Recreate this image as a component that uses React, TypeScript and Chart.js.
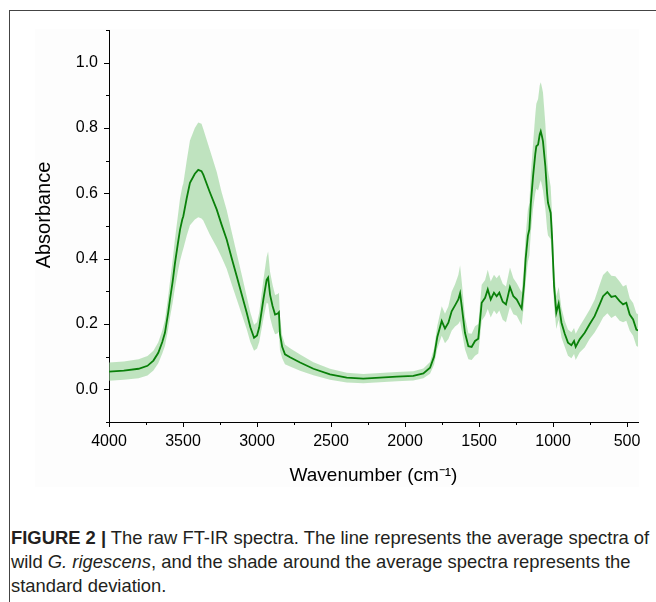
import React, { useEffect, useRef } from "react";
import { Chart, registerables } from "chart.js";

Chart.register(...registerables);

// Wavenumber (cm-1), mean absorbance, standard deviation
const WAVENUMBER = [
  4000, 3900, 3800, 3740, 3700, 3667, 3640, 3622, 3600, 3588, 3570, 3554, 3535, 3520, 3505, 3498,
  3475, 3453, 3420, 3397, 3375, 3363, 3320, 3272, 3240, 3205, 3170, 3137, 3100, 3070, 3045, 3020,
  3000, 2985, 2957, 2935, 2925, 2912, 2895, 2878, 2860, 2852, 2845, 2830, 2811, 2777, 2709, 2619,
  2507, 2394, 2282, 2169, 2056, 1944, 1876, 1831, 1804, 1782, 1752, 1730, 1707, 1685, 1662, 1640,
  1628, 1617, 1595, 1572, 1550, 1527, 1505, 1482, 1459, 1441, 1421, 1399, 1381, 1363, 1340, 1318,
  1291, 1268, 1245, 1228, 1212, 1196, 1185, 1170, 1160, 1150, 1135, 1120, 1113, 1101, 1090, 1083,
  1075, 1068, 1052, 1040, 1034, 1016, 1007, 993, 978, 962, 943, 921, 899, 876, 858, 847,
  820, 786, 753, 719, 685, 662, 633, 606, 579, 550, 527, 505, 482, 459, 437, 426,
];
const MEAN_ABS = [
  0.054, 0.057, 0.063, 0.072, 0.088, 0.112, 0.145, 0.173, 0.235, 0.275, 0.33, 0.387, 0.445, 0.489, 0.52, 0.53,
  0.585, 0.632, 0.66, 0.672, 0.668, 0.657, 0.605, 0.55, 0.505, 0.459, 0.4, 0.346, 0.285, 0.235, 0.19, 0.158,
  0.165, 0.19, 0.275, 0.335, 0.342, 0.29, 0.255, 0.229, 0.232, 0.236, 0.17, 0.13, 0.107, 0.098, 0.082, 0.063,
  0.046, 0.036, 0.033, 0.036, 0.039, 0.041, 0.049, 0.066, 0.1, 0.16, 0.209, 0.186, 0.204, 0.239, 0.257, 0.275,
  0.294, 0.255, 0.173, 0.132, 0.13, 0.148, 0.155, 0.265, 0.28, 0.306, 0.275, 0.296, 0.285, 0.296, 0.268, 0.26,
  0.313, 0.285, 0.275, 0.26, 0.247, 0.32, 0.4, 0.47, 0.49, 0.57, 0.652, 0.72, 0.744, 0.749, 0.78, 0.79,
  0.775, 0.759, 0.683, 0.6, 0.571, 0.54, 0.469, 0.316, 0.235, 0.263, 0.204, 0.17, 0.143, 0.135, 0.148, 0.13,
  0.153, 0.173, 0.199, 0.224, 0.26, 0.285, 0.298, 0.283, 0.286, 0.27, 0.26, 0.265, 0.229, 0.214, 0.183, 0.18,
];
const SD_ABS = [
  0.028, 0.028, 0.029, 0.03, 0.03, 0.032, 0.035, 0.04, 0.05, 0.055, 0.065, 0.075, 0.085, 0.095, 0.1, 0.1,
  0.115, 0.13, 0.14, 0.145, 0.145, 0.14, 0.13, 0.115, 0.1, 0.09, 0.08, 0.07, 0.06, 0.05, 0.045, 0.04,
  0.04, 0.045, 0.06, 0.07, 0.08, 0.07, 0.065, 0.06, 0.06, 0.06, 0.05, 0.035, 0.03, 0.028, 0.025, 0.02,
  0.017, 0.015, 0.014, 0.014, 0.014, 0.014, 0.015, 0.018, 0.025, 0.035, 0.045, 0.045, 0.05, 0.06, 0.065, 0.075,
  0.085, 0.075, 0.05, 0.04, 0.04, 0.045, 0.045, 0.055, 0.055, 0.06, 0.055, 0.055, 0.055, 0.055, 0.055, 0.055,
  0.06, 0.055, 0.05, 0.05, 0.05, 0.06, 0.07, 0.08, 0.08, 0.09, 0.1, 0.12, 0.13, 0.14, 0.15, 0.15,
  0.15, 0.15, 0.13, 0.11, 0.1, 0.08, 0.07, 0.06, 0.05, 0.05, 0.045, 0.04, 0.04, 0.04, 0.04, 0.04,
  0.04, 0.045, 0.045, 0.05, 0.06, 0.065, 0.065, 0.065, 0.06, 0.06, 0.055, 0.055, 0.05, 0.05, 0.05, 0.05,
];

const X_TICKS = [4000, 3500, 3000, 2500, 2000, 1500, 1000, 500];
const X_MINOR = [3750, 3250, 2750, 2250, 1750, 1250, 750];
const Y_TICKS = [0.0, 0.2, 0.4, 0.6, 0.8, 1.0];
const Y_MINOR = [-0.1, 0.1, 0.3, 0.5, 0.7, 0.9, 1.1];
const Y_TITLE = "Absorbance";
const X_TITLE = "Wavenumber (cm⁻¹)";

const LINE_COLOR = "#0a800a";
const BAND_COLOR = "rgba(150, 210, 150, 0.6)";
const FONT = "'Liberation Sans', Arial, sans-serif";

const tickMarks = {
  id: "tickMarks",
  afterDraw(chart: any) {
    const { ctx, chartArea } = chart;
    const xs = chart.scales.x;
    const ys = chart.scales.y;
    ctx.save();
    ctx.strokeStyle = "#000";
    ctx.lineWidth = 1;
    ctx.beginPath();
    const drawX = (v: number, len: number) => {
      const px = Math.round(xs.getPixelForValue(v)) + 0.5;
      ctx.moveTo(px, chartArea.bottom);
      ctx.lineTo(px, chartArea.bottom + len);
    };
    const drawY = (v: number, len: number) => {
      const py = Math.round(ys.getPixelForValue(v)) + 0.5;
      ctx.moveTo(chartArea.left, py);
      ctx.lineTo(chartArea.left - len, py);
    };
    X_TICKS.forEach((v) => drawX(v, 5));
    X_MINOR.forEach((v) => drawX(v, 3));
    Y_TICKS.forEach((v) => drawY(v, 5));
    Y_MINOR.forEach((v) => drawY(v, 3));
    ctx.stroke();
    // y axis title
    ctx.translate(44, 215);
    ctx.rotate(-Math.PI / 2);
    ctx.fillStyle = "#000";
    ctx.font = `20px ${FONT}`;
    ctx.textAlign = "center";
    ctx.textBaseline = "middle";
    ctx.fillText(Y_TITLE, 0, 0);
    ctx.restore();
  },
};

export default function App() {
  const ref = useRef<HTMLCanvasElement | null>(null);

  useEffect(() => {
    if (!ref.current) return;
    const meanPts = WAVENUMBER.map((w, i) => ({ x: w, y: MEAN_ABS[i] }));
    const upperPts = WAVENUMBER.map((w, i) => ({ x: w, y: MEAN_ABS[i] + SD_ABS[i] }));
    const lowerPts = WAVENUMBER.map((w, i) => ({ x: w, y: MEAN_ABS[i] - SD_ABS[i] }));
    const chart = new Chart(ref.current, {
      type: "line",
      data: {
        datasets: [
          {
            label: "Mean",
            data: meanPts,
            borderColor: LINE_COLOR,
            borderWidth: 1.8,
            pointRadius: 0,
            fill: false,
            tension: 0,
          },
          {
            label: "Mean + SD",
            data: upperPts,
            borderWidth: 0,
            borderColor: "transparent",
            backgroundColor: BAND_COLOR,
            pointRadius: 0,
            fill: "+1",
            tension: 0,
          },
          {
            label: "Mean - SD",
            data: lowerPts,
            borderWidth: 0,
            borderColor: "transparent",
            pointRadius: 0,
            fill: false,
            tension: 0,
          },
        ],
      },
      options: {
        responsive: false,
        animation: false,
        devicePixelRatio: 1,
        layout: { padding: { top: 30, right: 18, left: 0, bottom: 0 } },
        plugins: { legend: { display: false }, tooltip: { enabled: false } },
        scales: {
          x: {
            type: "linear",
            reverse: true,
            min: 426,
            max: 4000,
            afterBuildTicks: (s: any) => {
              s.ticks = X_TICKS.map((v) => ({ value: v }));
            },
            afterFit: (s: any) => {
              s.height = 78;
            },
            grid: { display: true, drawOnChartArea: false, drawTicks: true, tickLength: 5, color: "transparent" },
            border: { display: true, color: "#000", width: 1 },
            ticks: {
              color: "#000",
              padding: 5,
              maxRotation: 0,
              font: { family: FONT, size: 16 },
              callback: (v: any) => String(v),
            },
            title: {
              display: true,
              text: X_TITLE,
              color: "#000",
              font: { family: FONT, size: 19 },
              padding: { top: 0, bottom: 13 },
            },
          },
          y: {
            type: "linear",
            min: -0.1,
            max: 1.1,
            afterBuildTicks: (s: any) => {
              s.ticks = Y_TICKS.map((v) => ({ value: v }));
            },
            afterFit: (s: any) => {
              s.width = 109;
            },
            grid: { display: true, drawOnChartArea: false, drawTicks: true, tickLength: 5, color: "transparent" },
            border: { display: true, color: "#000", width: 1 },
            ticks: {
              color: "#000",
              padding: 6,
              font: { family: FONT, size: 16 },
              callback: (v: any) => Number(v).toFixed(1),
            },
            title: { display: false },
          },
        },
      },
      plugins: [tickMarks],
    });
    return () => chart.destroy();
  }, []);

  return (
    <div style={{ position: "absolute", left: 0, top: 0, width: 656, height: 602, overflow: "hidden", background: "#fff" }}>
      <div
        style={{
          position: "absolute",
          left: 9,
          top: 10,
          width: 700,
          height: 700,
          borderLeft: "1px solid #444",
          borderTop: "1px solid #444",
        }}
      />
      <div style={{ position: "absolute", left: 35, top: 29, width: 604, height: 458, background: "#fdfdfd" }} />
      <canvas ref={ref} width={656} height={500} style={{ position: "absolute", left: 0, top: 0, width: 656, height: 500 }} />
      <div
        style={{
          position: "absolute",
          left: 11,
          top: 526,
          fontFamily: FONT,
          fontSize: 18.4,
          lineHeight: "24px",
          color: "#231f20",
          whiteSpace: "nowrap",
        }}
      >
        <b>FIGURE 2 |</b> The raw FT-IR spectra. The line represents the average spectra of
        <br />
        wild <i>G. rigescens</i>, and the shade around the average spectra represents the
        <br />
        standard deviation.
      </div>
    </div>
  );
}
